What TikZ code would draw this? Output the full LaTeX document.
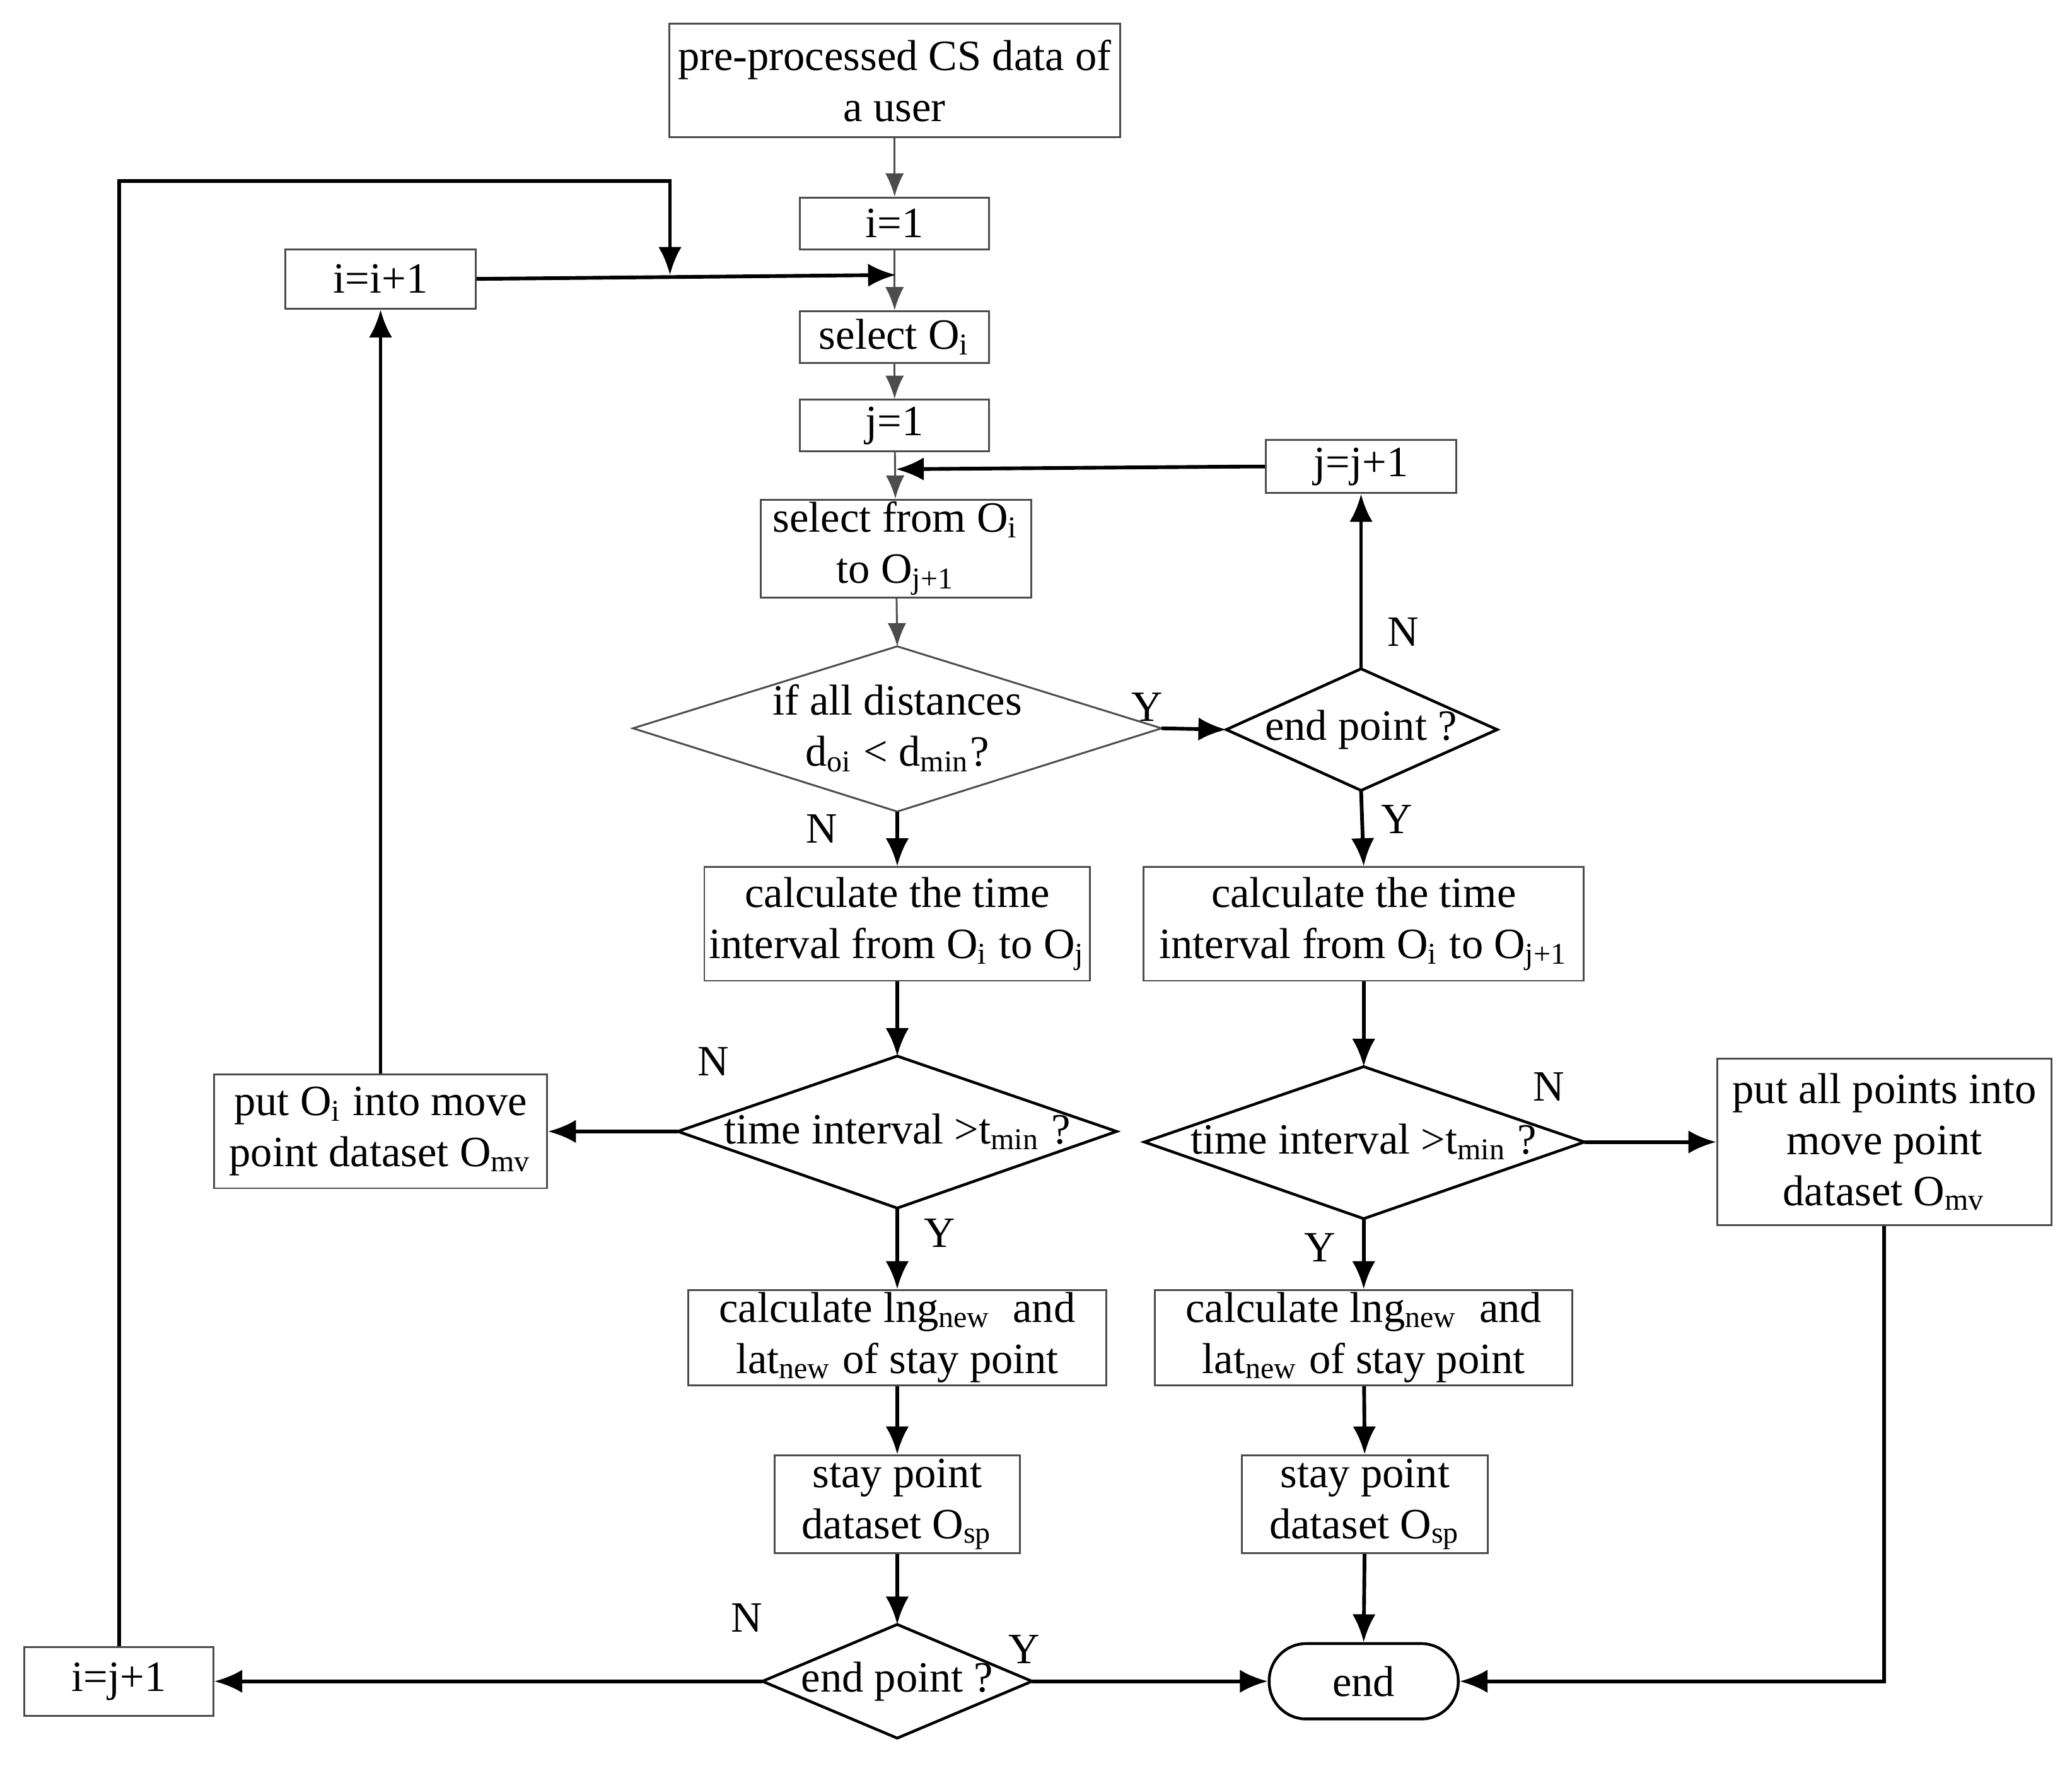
\documentclass[tikz,border=0pt]{standalone}
\usepackage{fontspec}
\setmainfont{Liberation Serif}
\usetikzlibrary{shapes.geometric,arrows.meta}
\newcommand{\sbs}[1]{\textsubscript{#1}}
\begin{document}
\begin{tikzpicture}[x=0.01cm,y=-0.01cm,
  every node/.style={font=\fontsize{9.3}{11}\selectfont},
  box/.style={draw=black!70,line width=0.4pt,rectangle,inner sep=0pt,align=center},
  dia/.style={draw,line width=0.6pt,diamond,aspect=2,inner sep=0pt,align=center},
  thin/.style={draw=black!70,line width=0.4pt,-{Latex[length=5pt,width=4pt]}},
  arr/.style={draw,line width=0.8pt,-{Latex[length=6pt,width=5pt]}},
  lab/.style={font=\fontsize{9.3}{11}\selectfont}]
\useasboundingbox (0,0) rectangle (1568,1336);
\def\bx(#1,#2,#3,#4,#5,#6){\node[box,minimum width=#3*0.01cm,minimum height=#4*0.01cm] (#5) at (#1,#2) {#6};}
\bx(677,61,341,86,top,pre-processed CS data of\\a user)
\bx(677,169,143,39,i1,i=1)
\bx(288,211,144,45,ii,i=i+1)
\bx(677,255,143,39,sel,select O\sbs{i})
\bx(677,322,143,39,j1,j=1)
\bx(1030,353,144,40,jj,j=j+1)
\bx(678,415,205,74,sf,select from O\sbs{i}\\to O\sbs{j+1})
\bx(679,699,292,86,c1,calculate the time\\interval from O\sbs{i} to O\sbs{j})
\bx(1032,699,333,86,c2,calculate the time\\interval from O\sbs{i} to O\sbs{j+1})
\bx(288,856,252,86,po,put O\sbs{i} into move\\point dataset O\sbs{mv})
\bx(1426,864,253,126,pa,put all points into\\move point\\dataset O\sbs{mv})
\bx(679,1012,316,72,l1,calculate lng\sbs{new}\ \ and\\lat\sbs{new} of stay point)
\bx(1032,1012,316,72,l2,calculate lng\sbs{new}\ \ and\\lat\sbs{new} of stay point)
\bx(679,1138,186,74,s1,stay point\\dataset O\sbs{sp})
\bx(1033,1138,186,74,s2,stay point\\dataset O\sbs{sp})
\bx(90,1272,143,52,ij,i=j+1)
\node[draw,line width=0.6pt,rounded corners=0.28cm,minimum width=1.43cm,minimum height=0.57cm] (end) at (1032,1272) {end};
\def\dd(#1,#2,#3,#4,#5,#6){\node[draw,line width=0.6pt,diamond,inner sep=0pt,align=center,minimum width=#3*0.01cm,minimum height=#4*0.01cm,aspect=#3/#4] (#5) at (#1,#2) {#6};}
\draw[draw=black!70,line width=0.4pt] (479,551)--(679,489)--(879,551)--(679,614)--cycle;
\node[align=center] (d1) at (679,551) {if all distances\\d\sbs{oi} < d\sbs{min}?};
\coordinate (d1n) at (679,489); \coordinate (d1s) at (679,614); \coordinate (d1e) at (879,551);
\draw[line width=0.6pt] (928,552)--(1030,506)--(1133,552)--(1030,598)--cycle;
\node (e1) at (1030,552) {end point ?};
\coordinate (e1n) at (1030,506); \coordinate (e1s) at (1030,598); \coordinate (e1w) at (928,552);
\draw[line width=0.6pt] (513,856)--(679,799)--(845,856)--(679,914)--cycle;
\node (d2) at (679,856) {time interval >t\sbs{min} ?};
\coordinate (d2n) at (679,799); \coordinate (d2s) at (679,914); \coordinate (d2w) at (513,856);
\draw[line width=0.6pt] (866,864)--(1032,807)--(1199,864)--(1032,922)--cycle;
\node (d3) at (1032,864) {time interval >t\sbs{min} ?};
\coordinate (d3n) at (1032,807); \coordinate (d3s) at (1032,922); \coordinate (d3e) at (1199,864);
\draw[line width=0.6pt] (577,1272)--(679,1229)--(781,1272)--(679,1315)--cycle;
\node (d4) at (679,1272) {end point ?};
\coordinate (d4n) at (679,1229); \coordinate (d4w) at (577,1272); \coordinate (d4e) at (781,1272);
% thin arrows
\draw[thin] (top)--(i1);
\draw[thin] (i1)--(sel);
\draw[thin] (sel)--(j1);
\draw[thin] (j1)--(sf);
\draw[thin] (sf)--(d1n);
% thick arrows
\coordinate (m1) at (678,208);
\draw[arr] (ii.east)--(m1);
\draw[arr] (po.north)--(ii.south);
\coordinate (a1) at (90,137); \coordinate (a2) at (507,137); \coordinate (a3) at (507,208);
\draw[arr] (ij.north)--(a1)--(a2)--(a3);
\coordinate (m2) at (678,355); \coordinate (m3) at (940,353);
\draw[arr] (jj.west)--(m3)--(m2);
\draw[arr] (d1e)--(e1w);
\draw[arr] (e1n)--(jj.south);
\draw[arr] (e1s)--(c2.north);
\draw[arr] (d1s)--(c1.north);
\draw[arr] (c1.south)--(d2n);
\draw[arr] (d2w)--(po.east);
\draw[arr] (d2s)--(l1.north);
\draw[arr] (l1)--(s1);
\draw[arr] (s1)--(d4n);
\draw[arr] (d4w)--(ij.east);
\draw[arr] (d4e)--(end.west);
\draw[arr] (c2.south)--(d3n);
\draw[arr] (d3e)--(pa.west);
\draw[arr] (d3s)--(l2.north);
\draw[arr] (l2)--(s2);
\draw[arr] (s2)--(end.north);
\coordinate (b1) at (1426,1272);
\draw[arr] (pa.south)--(b1)--(end.east);
% labels
\node[lab] (y1) at (868,535) {Y};
\node[lab] (n1) at (1062,478) {N};
\node[lab] (y2) at (1057,620) {Y};
\node[lab] (n2) at (622,627) {N};
\node[lab] (n3) at (540,803) {N};
\node[lab] (y3) at (711,933) {Y};
\node[lab] (n4) at (1172,822) {N};
\node[lab] (y4) at (999,944) {Y};
\node[lab] (n5) at (565,1224) {N};
\node[lab] (y5) at (775,1248) {Y};
\end{tikzpicture}
\end{document}
